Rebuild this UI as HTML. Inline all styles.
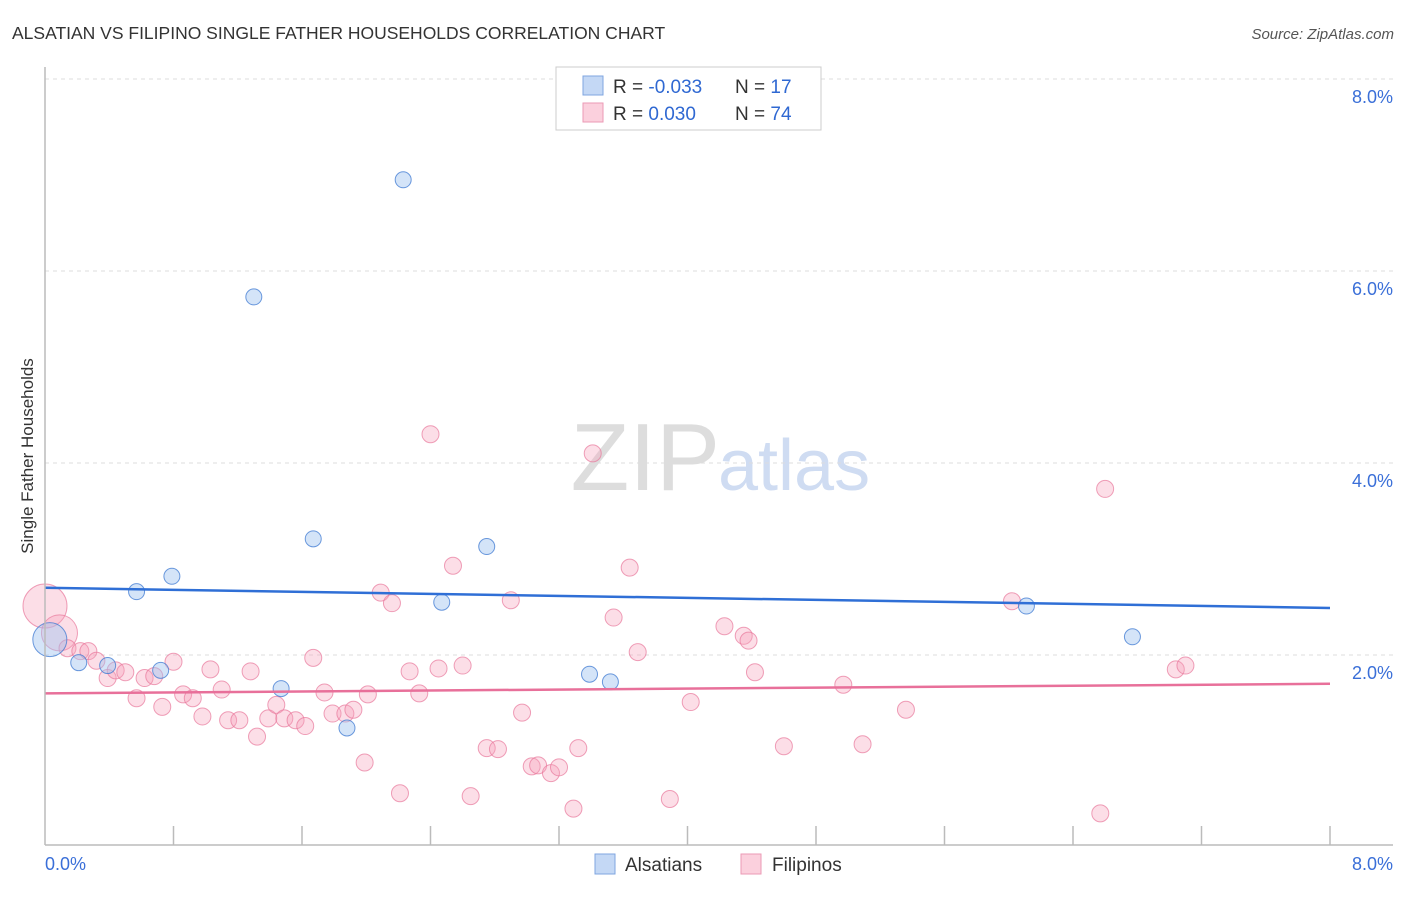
<!DOCTYPE html>
<html><head><meta charset="utf-8"><style>
body{margin:0;background:#fff;font-family:"Liberation Sans",sans-serif}
svg text{font-family:"Liberation Sans",sans-serif}
</style></head><body>
<svg id="c" width="1406" height="892">
<text x="12" y="39" font-size="17.5" fill="#333">ALSATIAN VS FILIPINO SINGLE FATHER HOUSEHOLDS CORRELATION CHART</text>
<text x="1394" y="39" font-size="15" fill="#555" font-style="italic" text-anchor="end">Source: ZipAtlas.com</text>
<text x="33" y="456" font-size="17" fill="#333" text-anchor="middle" transform="rotate(-90 33 456)">Single Father Households</text>
<text x="720" y="490" font-size="96" fill="#ddd" text-anchor="end" font-family="Liberation Serif">ZIP</text>
<text x="718" y="490" font-size="72" fill="#cfdcf2">atlas</text>
<g id="grid"></g><g id="pts"></g><g id="lines"></g>
<line x1="45" y1="67" x2="45" y2="845" stroke="#bbb" stroke-width="1.5"/>
<line x1="45" y1="845" x2="1393" y2="845" stroke="#bbb" stroke-width="1.5"/>
<text x="45" y="870" font-size="18" fill="#3a6fd8">0.0%</text>
<text x="1393" y="870" font-size="18" fill="#3a6fd8" text-anchor="end">8.0%</text>
<g>
<rect x="556" y="67" width="265" height="63" fill="#fff" stroke="#ccc"/>
<rect x="583" y="76" width="20" height="19" fill="#c4d8f5" stroke="#7fa6e0"/>
<rect x="583" y="103" width="20" height="19" fill="#fbd0dd" stroke="#eb9ab5"/>
<text x="613" y="93" font-size="19" fill="#333">R = <tspan fill="#2f68d2">-0.033</tspan></text>
<text x="735" y="93" font-size="19" fill="#333">N = <tspan fill="#2f68d2"> 17</tspan></text>
<text x="613" y="120" font-size="19" fill="#333">R = <tspan fill="#2f68d2"> 0.030</tspan></text>
<text x="735" y="120" font-size="19" fill="#333">N = <tspan fill="#2f68d2">74</tspan></text>
</g>
<g>
<rect x="595" y="854" width="20" height="20" fill="#c4d8f5" stroke="#7fa6e0"/>
<text x="625" y="871" font-size="19" fill="#333">Alsatians</text>
<rect x="741" y="854" width="20" height="20" fill="#fbd0dd" stroke="#eb9ab5"/>
<text x="772" y="871" font-size="19" fill="#333">Filipinos</text>
</g>
</svg>
<script>
const yTicks=[2,4,6,8];
const yTickLabels=["2.0%","4.0%","6.0%","8.0%"];
const xTicks=[0.8,1.6,2.4,3.2,4.0,4.8,5.6,6.4,7.2,8.0];
const blueX=[2.23,1.30,1.67,2.75,0.79,0.57,2.47,6.11,6.77,0.03,0.21,0.39,0.72,1.47,3.39,3.52,1.88];
const blueY=[6.95,5.73,3.21,3.13,2.82,2.66,2.55,2.51,2.19,2.16,1.92,1.89,1.84,1.65,1.80,1.72,1.24];
const blueR=[8,8,8,8,8,8,8,8,8,17,8,8,8,8,8,8,8];
const pinkX=[0.00,0.09,0.14,0.22,0.27,0.32,0.39,0.44,0.50,0.57,0.62,0.68,0.73,0.80,0.86,0.92,0.98,1.03,1.10,1.14,1.21,1.28,1.32,1.39,1.44,1.49,1.56,1.62,1.67,1.74,1.79,1.87,1.92,1.99,2.01,2.09,2.16,2.21,2.27,2.33,2.40,2.45,2.54,2.60,2.65,2.75,2.82,2.90,2.97,3.03,3.07,3.15,3.20,3.29,3.32,3.41,3.54,3.64,3.69,3.89,4.02,4.23,4.35,4.38,4.42,4.60,4.97,5.09,5.36,6.02,6.60,6.57,7.04,7.10];
const pinkY=[2.51,2.23,2.07,2.04,2.04,1.94,1.76,1.84,1.82,1.55,1.76,1.78,1.46,1.93,1.59,1.55,1.36,1.85,1.64,1.32,1.32,1.83,1.15,1.34,1.48,1.34,1.32,1.26,1.97,1.61,1.39,1.39,1.43,0.88,1.59,2.65,2.54,0.56,1.83,1.60,4.30,1.86,2.93,1.89,0.53,1.03,1.02,2.57,1.40,0.84,0.85,0.77,0.83,0.40,1.03,4.10,2.39,2.91,2.03,0.50,1.51,2.30,2.20,2.15,1.82,1.05,1.69,1.07,1.43,2.56,3.73,0.35,1.85,1.89];
const pinkR=[22,18];
const blueTrend=[2.70,2.49];
const pinkTrend=[1.60,1.70];
const NS="http://www.w3.org/2000/svg";
const X0=45,X1=1330,Y0=847,YS=96;
function sx(v){return X0+v/8*(X1-X0);}
function sy(v){return Y0-v*YS;}
function mk(tag,parent,attrs){const e=document.createElementNS(NS,tag);for(const k in attrs)e.setAttribute(k,attrs[k]);document.getElementById(parent).appendChild(e);return e;}
yTicks.forEach((t,i)=>{
 const l=mk('line','grid',{x1:45,x2:1393,y1:sy(t),y2:sy(t),stroke:'#ddd','stroke-dasharray':'4,4'});
 
 
 const tx=mk('text','grid',{x:1393,y:sy(t)+24,'font-size':18,fill:'#3a6fd8','text-anchor':'end'});
 tx.textContent=yTickLabels[i];
 
 
});
xTicks.forEach(t=>{
 const l=mk('line','grid',{x1:sx(t),x2:sx(t),y1:826,y2:845,stroke:'#bbb','stroke-width':1.5});
 
 
});
pinkX.forEach((v,i)=>{
 const c=mk('circle','pts',{cx:sx(v),cy:sy(pinkY[i]),r:pinkR[i]||8.5,fill:'rgba(245,160,185,0.35)',stroke:'rgba(232,120,155,0.7)','stroke-width':1});
 
 
});
blueX.forEach((v,i)=>{
 const c=mk('circle','pts',{cx:sx(v),cy:sy(blueY[i]),r:blueR[i],fill:'rgba(160,195,240,0.45)',stroke:'rgba(60,120,210,0.75)','stroke-width':1});
 
 
});
const bl=mk('line','lines',{x1:sx(0),x2:sx(8),y1:sy(blueTrend[0]),y2:sy(blueTrend[1]),stroke:'#2f6fd6','stroke-width':2.5});


const pl=mk('line','lines',{x1:sx(0),x2:sx(8),y1:sy(pinkTrend[0]),y2:sy(pinkTrend[1]),stroke:'#e8709a','stroke-width':2.5});


</script>
</body></html>
